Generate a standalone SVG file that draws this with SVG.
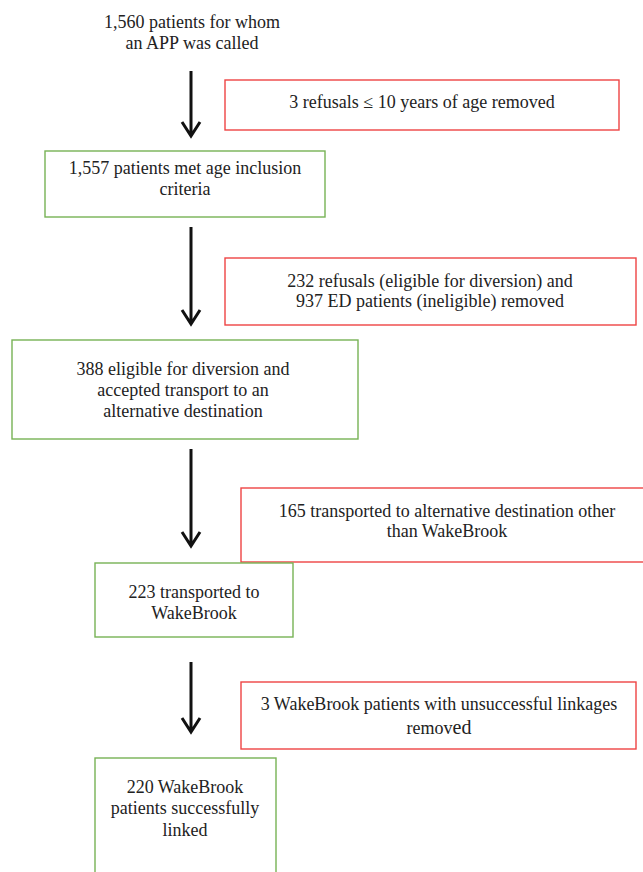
<svg xmlns="http://www.w3.org/2000/svg" width="643" height="872" viewBox="0 0 643 872">
<style>
text{font-family:"Liberation Serif","Times New Roman",serif;font-size:18px;fill:#222;text-anchor:middle}
.red{fill:#fff;stroke:#ee4444;stroke-width:1.4}
.green{fill:#fff;stroke:#77b255;stroke-width:1.4}
.arr{stroke:#111;stroke-width:3;fill:none}
</style>
<g id="connectors">
<path class="arr" d="M191 71V136M182 122L191 136L200 122"/>
<path class="arr" d="M191 227V324M182 310L191 324L200 310"/>
<path class="arr" d="M191 449V546M182 532L191 546L200 532"/>
<path class="arr" d="M191 662V732M182 718L191 732L200 718"/>
</g>
<g id="start">
<text x="192" y="28">1,560 patients for whom</text>
<text x="192" y="49">an APP was called</text>
</g>
<g id="excl1">
<rect class="red" x="225" y="80" width="394" height="50"/>
<text x="422" y="108">3 refusals ≤ 10 years of age removed</text>
</g>
<g id="incl1">
<rect class="green" x="45" y="151" width="280" height="66"/>
<text x="185" y="174">1,557 patients met age inclusion</text>
<text x="185" y="195">criteria</text>
</g>
<g id="excl2">
<rect class="red" x="225" y="258" width="411" height="67"/>
<text x="430" y="287">232 refusals (eligible for diversion) and</text>
<text x="430" y="307">937 ED patients (ineligible) removed</text>
</g>
<g id="incl2">
<rect class="green" x="12" y="340" width="346" height="99"/>
<text x="183" y="375">388 eligible for diversion and</text>
<text x="183" y="396">accepted transport to an</text>
<text x="183" y="417">alternative destination</text>
</g>
<g id="excl3">
<rect class="red" x="241" y="488" width="415" height="74"/>
<text x="447" y="517">165 transported to alternative destination other</text>
<text x="447" y="537">than WakeBrook</text>
</g>
<g id="incl3">
<rect class="green" x="95" y="563" width="198" height="74"/>
<text x="194" y="598">223 transported to</text>
<text x="194" y="619">WakeBrook</text>
</g>
<g id="excl4">
<rect class="red" x="241" y="682" width="395" height="67"/>
<text x="439" y="710">3 WakeBrook patients with unsuccessful linkages</text>
<text x="439" y="734">remov<tspan font-size="20">ed</tspan></text>
</g>
<g id="incl4">
<rect class="green" x="95" y="758" width="181" height="130"/>
<text x="185" y="793">220 WakeBrook</text>
<text x="185" y="814">patients successfully</text>
<text x="185" y="836">linked</text>
</g>
</svg>
